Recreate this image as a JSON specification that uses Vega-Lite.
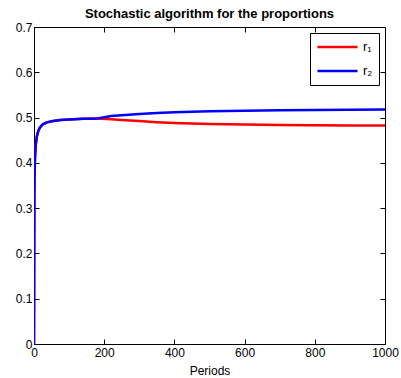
{
  "$schema": "https://vega.github.io/schema/vega-lite/v6.json",
  "autosize": "none",
  "width": 351,
  "height": 317,
  "padding": {"left": 34, "top": 27, "right": 16, "bottom": 34},
  "config": {
    "font": "Liberation Sans",
    "view": {"stroke": "black", "strokeWidth": 1},
    "axis": {
      "domain": false,
      "grid": false,
      "tickColor": "black",
      "tickSize": -5,
      "labelFlush": false,
      "labelOverlap": false,
      "labelFont": "Liberation Sans",
      "labelFontSize": 12,
      "labelColor": "black",
      "titleFont": "Liberation Sans",
      "titleFontSize": 12,
      "titleFontWeight": "normal",
      "titleColor": "black"
    }
  },
  "title": {
    "text": "Stochastic algorithm for the proportions",
    "fontSize": 13,
    "fontWeight": "bold",
    "color": "black",
    "font": "Liberation Sans",
    "offset": 0
  },
  "data": {
    "values": [
      {"t": 0, "v": 0.0, "s": "r1"},
      {"t": 1, "v": 0.33, "s": "r1"},
      {"t": 2, "v": 0.39, "s": "r1"},
      {"t": 3, "v": 0.415, "s": "r1"},
      {"t": 5, "v": 0.44, "s": "r1"},
      {"t": 8, "v": 0.458, "s": "r1"},
      {"t": 12, "v": 0.47, "s": "r1"},
      {"t": 17, "v": 0.478, "s": "r1"},
      {"t": 25, "v": 0.485, "s": "r1"},
      {"t": 35, "v": 0.489, "s": "r1"},
      {"t": 50, "v": 0.492, "s": "r1"},
      {"t": 75, "v": 0.4945, "s": "r1"},
      {"t": 100, "v": 0.496, "s": "r1"},
      {"t": 140, "v": 0.4972, "s": "r1"},
      {"t": 180, "v": 0.498, "s": "r1"},
      {"t": 220, "v": 0.4965, "s": "r1"},
      {"t": 260, "v": 0.4942, "s": "r1"},
      {"t": 300, "v": 0.4922, "s": "r1"},
      {"t": 350, "v": 0.4898, "s": "r1"},
      {"t": 400, "v": 0.488, "s": "r1"},
      {"t": 500, "v": 0.486, "s": "r1"},
      {"t": 600, "v": 0.4848, "s": "r1"},
      {"t": 700, "v": 0.4838, "s": "r1"},
      {"t": 800, "v": 0.4832, "s": "r1"},
      {"t": 900, "v": 0.4827, "s": "r1"},
      {"t": 1000, "v": 0.4823, "s": "r1"},
      {"t": 0, "v": 0.0, "s": "r2"},
      {"t": 1, "v": 0.33, "s": "r2"},
      {"t": 2, "v": 0.39, "s": "r2"},
      {"t": 3, "v": 0.415, "s": "r2"},
      {"t": 5, "v": 0.44, "s": "r2"},
      {"t": 8, "v": 0.458, "s": "r2"},
      {"t": 12, "v": 0.47, "s": "r2"},
      {"t": 17, "v": 0.478, "s": "r2"},
      {"t": 25, "v": 0.485, "s": "r2"},
      {"t": 35, "v": 0.489, "s": "r2"},
      {"t": 50, "v": 0.492, "s": "r2"},
      {"t": 75, "v": 0.4945, "s": "r2"},
      {"t": 100, "v": 0.496, "s": "r2"},
      {"t": 140, "v": 0.4972, "s": "r2"},
      {"t": 180, "v": 0.498, "s": "r2"},
      {"t": 220, "v": 0.5035, "s": "r2"},
      {"t": 260, "v": 0.5058, "s": "r2"},
      {"t": 300, "v": 0.5078, "s": "r2"},
      {"t": 350, "v": 0.5102, "s": "r2"},
      {"t": 400, "v": 0.512, "s": "r2"},
      {"t": 500, "v": 0.514, "s": "r2"},
      {"t": 600, "v": 0.5152, "s": "r2"},
      {"t": 700, "v": 0.5162, "s": "r2"},
      {"t": 800, "v": 0.5168, "s": "r2"},
      {"t": 900, "v": 0.5173, "s": "r2"},
      {"t": 1000, "v": 0.5177, "s": "r2"}
    ]
  },
  "layer": [
    {
      "mark": {"type": "line", "strokeWidth": 2.5, "clip": true},
      "encoding": {
        "x": {
          "field": "t", "type": "quantitative",
          "scale": {"domain": [0, 1000], "nice": false},
          "axis": {"orient": "bottom", "title": "Periods", "values": [0, 200, 400, 600, 800, 1000], "format": "d", "labelPadding": 8, "titlePadding": 7}
        },
        "y": {
          "field": "v", "type": "quantitative",
          "scale": {"domain": [0, 0.7], "nice": false, "zero": false},
          "axis": {"orient": "left", "title": null, "values": [0, 0.1, 0.2, 0.3, 0.4, 0.5, 0.6, 0.7], "format": ".1~f", "labelPadding": 7}
        },
        "color": {
          "field": "s", "type": "nominal",
          "scale": {"domain": ["r1", "r2"], "range": ["#ff0000", "#0000ff"]},
          "legend": {
            "title": null,
            "orient": "top-right",
            "offset": 6,
            "labelExpr": "datum.label == 'r1' ? 'r₁' : 'r₂'",
            "symbolType": "stroke",
            "symbolSize": 1600,
            "symbolStrokeWidth": 2.5,
            "clipHeight": 16,
            "rowPadding": 8,
            "padding": 6,
            "strokeColor": "black",
            "fillColor": "white",
            "labelFontSize": 13,
            "labelColor": "black",
            "labelFont": "Liberation Sans"
          }
        }
      }
    },
    {
      "mark": {"type": "point", "opacity": 0},
      "encoding": {
        "x": {
          "field": "t", "type": "quantitative",
          "axis": {"orient": "top", "title": null, "labels": false, "values": [0, 200, 400, 600, 800, 1000]}
        },
        "y": {
          "field": "v", "type": "quantitative",
          "axis": {"orient": "right", "title": null, "labels": false, "values": [0, 0.1, 0.2, 0.3, 0.4, 0.5, 0.6, 0.7]}
        }
      }
    }
  ],
  "resolve": {"axis": {"x": "independent", "y": "independent"}}
}
